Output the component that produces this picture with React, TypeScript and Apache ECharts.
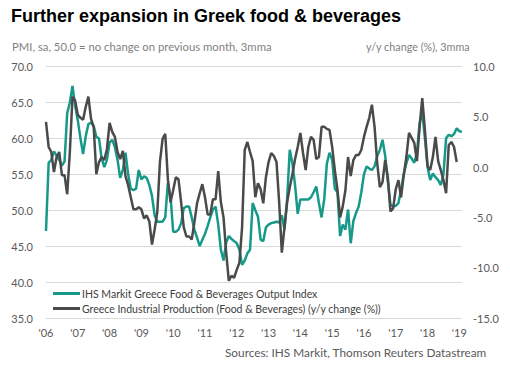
import React, { useEffect, useRef } from "react";
import * as echarts from "echarts";

const startYear = 2006;
const monthCount = 158; // Jan 2006 .. Feb 2019
const yearTickLabels = ["'06", "'07", "'08", "'09", "'10", "'11", "'12", "'13", "'14", "'15", "'16", "'17", "'18", "'19"];

const pmiFoodBev = [
  47.1, 56.6, 57.0, 58.2, 57.6, 57.0, 56.2, 56.8, 63.5, 65.0, 67.3, 64.5,
  62.5, 60.0, 57.8, 60.3, 62.0, 62.2, 61.7, 60.2, 60.0, 57.2, 56.0, 57.0,
  59.4, 59.8, 58.8, 57.0, 54.5, 55.6, 58.0, 55.0, 53.0, 52.8, 53.0, 55.6,
  54.3, 54.7, 54.5, 53.5, 52.0, 49.3, 48.4, 48.4, 48.4, 49.0, 53.8, 51.9,
  47.0, 47.0, 47.3, 48.2, 50.3, 50.5, 50.5, 49.0, 47.3, 46.2, 45.0, 45.9,
  46.7, 47.8, 49.0, 50.1, 50.5, 48.0, 44.5, 43.0, 45.5, 46.4, 46.0, 45.7,
  45.4, 44.5, 42.4, 43.0, 44.0, 44.5, 51.0, 50.0, 49.1, 45.9, 45.7, 47.6,
  48.0, 48.2, 48.3, 48.4, 48.3, 49.3, 47.3, 51.5, 58.4, 56.5, 53.5, 49.5,
  51.5, 51.5, 51.5, 51.5, 51.8, 52.5, 53.3, 51.0, 49.0, 51.5, 56.5, 58.0,
  57.0, 53.0, 52.5, 46.4, 48.0, 47.3, 50.1, 45.4, 48.5, 49.6, 50.5, 52.5,
  55.0, 56.1, 55.8, 55.6, 56.1, 57.5, 58.4, 59.8, 57.6, 54.0, 50.8, 50.5,
  50.6, 51.0, 52.8, 55.0, 56.5, 57.7, 57.2, 56.6, 58.0, 62.1, 63.7, 60.0,
  56.0, 54.2, 55.1, 54.6, 54.2, 53.5, 55.0, 60.0, 60.5, 60.3, 60.6, 61.4,
  61.0, 60.9,
];

const industrialProdYoY = [
  4.5, 2.0, 1.5, -0.5, 1.0, 1.5, -0.8, -0.8, -2.7, 1.5, 7.0, 6.6,
  5.2, 4.9, 4.7, 6.0, 7.0, 4.8, 4.0, -0.7, 0.5, 1.0, 0.7, 1.8,
  4.4, 3.5, 3.0, 1.5, 0.8, 1.6, -0.9, -1.8, -3.0, -4.2, -4.2, -4.0,
  -4.2, -5.1, -4.8, -5.4, -7.7, -6.2, -4.5, 0.5, 2.8, 3.3, -1.2, -3.5,
  -2.3, -1.0, -1.2, -3.5, -6.0, -6.9, -6.9, -7.2, -5.5, -3.6, -2.6, -1.7,
  -3.0, -4.7, -4.7, -3.2, -3.2, -0.4, -3.5, -5.0, -8.5, -11.3, -10.8, -11.0,
  -10.2, -9.5, -6.0, 1.7, 2.5, 1.5, 0.6, -3.0, -1.6, -2.2, -3.6, -1.0,
  0.5, 1.4, 1.1, 0.5, -3.5, -8.5, -6.0, -3.5, -2.0, -0.7, 0.8, 2.0,
  3.4, 1.4, -0.3, 2.0, 3.0, 2.7, 0.8, 1.0, 4.0, 4.0, 3.8, 3.7,
  2.0, -0.3, -2.25, -5.0, -3.9, -2.3, 1.0, -0.9, 0.7, 1.2, 1.2, 1.7,
  3.0, 4.0, 4.9, 6.2, 4.0, 0.4, -2.0, -1.5, 0.7, -1.0, -4.4, -4.1,
  -2.2, -1.3, -3.0, -0.8, 1.0, 3.4, 2.9, 2.4, 0.6, 4.0, 6.85, 3.7,
  0.1, -0.3, 1.0, 3.0, 0.6, -0.3, -1.3, -2.6, 2.2, 2.5, 2.0, 0.5,
];

const seriesNames = [
  "IHS Markit Greece Food & Beverages Output Index",
  "Greece Industrial Production (Food & Beverages) (y/y change (%))",
];

const months: string[] = [];
for (let i = 0; i < monthCount; i++) {
  const y = startYear + Math.floor(i / 12);
  const m = (i % 12) + 1;
  months.push(`${y}-${m < 10 ? "0" + m : m}`);
}

const FONT = "Lato, 'Open Sans', sans-serif";
const GREEN = "#17998a";
const GREY = "#4a4a4a";

export default function App() {
  const ref = useRef<HTMLDivElement>(null);
  useEffect(() => {
    if (!ref.current) return;
    const chart = echarts.init(ref.current, null, { renderer: "svg" });
    chart.setOption({
      animation: false,
      backgroundColor: "#ffffff",
      textStyle: { fontFamily: FONT },
      grid: { left: 46, right: 48, top: 66.5, bottom: 51, containLabel: false },
      graphic: [
        {
          type: "text",
          left: 11,
          top: 7,
          style: {
            text: "Further expansion in Greek food & beverages",
            font: "bold 18px 'Liberation Sans', Arial, sans-serif",
            fill: "#000000",
          },
        },
        {
          type: "text",
          left: 12,
          top: 41,
          style: {
            text: "PMI, sa, 50.0 = no change on previous month, 3mma",
            font: `11.3px ${FONT}`,
            fill: "#7f7f7f",
          },
        },
        {
          type: "text",
          left: 366,
          top: 41,
          style: {
            text: "y/y change (%), 3mma",
            font: `10.8px ${FONT}`,
            fill: "#7f7f7f",
          },
        },
        {
          type: "text",
          left: 225,
          top: 346,
          style: {
            text: "Sources: IHS Markit, Thomson Reuters Datastream",
            font: `11.8px ${FONT}`,
            fill: "#595959",
          },
        },
      ],
      legend: {
        left: 48,
        top: 283,
        orient: "vertical",
        itemWidth: 27,
        itemHeight: 3,
        itemGap: 4,
        icon: "rect",
        data: seriesNames,
        textStyle: { fontFamily: FONT, fontSize: 10.5, color: "#404040", padding: [0, 0, 0, -3] },
      },
      xAxis: {
        type: "category",
        data: months,
        boundaryGap: false,
        axisLine: { show: false },
        axisTick: { show: false },
        splitLine: { show: false },
        axisLabel: {
          interval: (idx: number) => idx % 12 === 0,
          formatter: (_v: string, idx: number) => yearTickLabels[Math.floor(idx / 12)] ?? "",
          color: "#595959",
          fontSize: 11,
          fontFamily: FONT,
          margin: 9,
        },
      },
      yAxis: [
        {
          type: "value",
          min: 35,
          max: 70,
          interval: 5,
          axisLine: { show: false },
          axisTick: { show: false },
          splitLine: { lineStyle: { color: "#d9d9d9", width: 1 } },
          axisLabel: {
            formatter: (v: number) => v.toFixed(1),
            color: "#595959",
            fontSize: 11,
            fontFamily: FONT,
            margin: 13,
          },
        },
        {
          type: "value",
          min: -15,
          max: 10,
          interval: 5,
          position: "right",
          axisLine: { show: false },
          axisTick: { show: false },
          splitLine: { show: false },
          axisLabel: {
            formatter: (v: number) => v.toFixed(1),
            color: "#595959",
            fontSize: 11,
            fontFamily: FONT,
            margin: 11,
          },
        },
      ],
      series: [
        {
          name: seriesNames[0],
          type: "line",
          yAxisIndex: 0,
          data: pmiFoodBev,
          showSymbol: false,
          lineStyle: { color: GREEN, width: 2.5 },
          itemStyle: { color: GREEN },
        },
        {
          name: seriesNames[1],
          type: "line",
          yAxisIndex: 1,
          data: industrialProdYoY,
          showSymbol: false,
          lineStyle: { color: GREY, width: 2.5 },
          itemStyle: { color: GREY },
        },
      ],
    });
    return () => chart.dispose();
  }, []);
  return (
    <div
      ref={ref}
      style={{ position: "absolute", left: 0, top: 0, width: 510, height: 369, background: "#fff" }}
    />
  );
}
